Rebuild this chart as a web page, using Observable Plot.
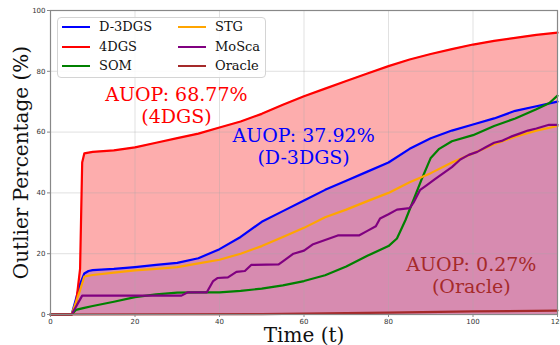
<!DOCTYPE html>
<html><head><meta charset="utf-8">
<script src="https://cdn.jsdelivr.net/npm/d3@7"></script>
<script src="https://cdn.jsdelivr.net/npm/@observablehq/plot@0.6"></script>
<style>
body{margin:0;background:#fff;}
#wrap{position:relative;width:560px;height:345px;}
.legend{position:absolute;left:57px;top:17px;width:207px;height:59px;border:1px solid #d4d4d4;border-radius:4px;background:rgba(255,255,255,0.85);font-family:"DejaVu Serif";font-size:13px;color:#111;}
.item{position:absolute;height:18px;line-height:18px;}
.item .sw{position:absolute;top:8px;width:28px;height:2px;}
.item .lb{position:absolute;left:37px;white-space:nowrap;}
</style></head><body><div id="wrap"></div>
<script>
const seriesNames = ["D-3DGS","4DGS","SOM","STG","MoSca","Oracle"];
const seriesColors = ["blue","red","green","orange","purple","brown"];

const t_D3DGS = [0,5,6,7,8,9,10,15,20,25,30,35,40,45,50,55,60,65,70,75,80,85,90,95,100,105,110,115,120];
const v_D3DGS = [0,0,5,10,13.5,14.3,14.6,15,15.6,16.3,17,18.5,21.5,25.5,30.5,34,37.5,41,44,47,50,54.5,58,60.5,62.5,64.5,67,68.5,70];

const t_4DGS = [0,5,6,7,7.5,8,10,15,20,25,30,35,40,45,50,55,60,65,70,75,80,85,90,95,100,105,110,115,120];
const v_4DGS = [0,0,3,15,50,53,53.5,54,55,56.5,58,59.5,61.5,63.5,66,69,71.8,74.3,76.8,79.3,81.7,83.9,85.7,87.3,88.8,90,91,92,92.7];

const t_SOM = [0,5,6,8,10,15,20,25,30,35,40,45,50,55,60,65,70,75,80,82,84,86,88,90,92,95,100,105,110,115,118,120];
const v_SOM = [0,0,1.5,2.2,2.8,4.2,5.7,6.6,7.2,7.3,7.3,7.8,8.5,9.6,11,12.9,15.8,19.3,22.5,25,31,38,45,51.5,54.5,57,59,62,64.5,67.5,69.5,72];

const t_STG = [0,5,6,7,8,10,15,20,25,30,35,40,45,50,55,60,65,70,75,80,85,90,95,100,105,110,115,120];
const v_STG = [0,0,4,8,12.5,13,13.8,14.5,15,15.6,16.8,18,20,22.5,25.5,28.5,32,34.5,37.3,40,43.5,46.5,50,53,56,58.5,60.5,62];

const t_MoSca = [0,5,7.5,31,32.5,37,38.5,39.5,42,44,46,47.5,54,55,57.5,60,62,65,68,73,75,77,78,80,82,85,86,87.5,89,91,93,95,97,99,101,103,105,107,109,111,113,115,118,120];
const v_MoSca = [0,0,6.2,6.2,7.3,7.3,11,12,12.2,14,14.3,16.3,16.5,17.5,20,21,23,24.5,26,26,27.5,29,31.6,33,34.5,35,37,41,42.5,44.5,46.5,48.5,51,52.5,53.5,55,56.5,57.2,58.5,59.5,60.5,61.2,62.4,62.4];

const t_Oracle = [0,50,60,80,100,120];
const v_Oracle = [0,0.1,0.3,0.6,1.0,1.3];

const xTicks = [0,20,40,60,80,100,120];
const yTicks = [0,20,40,60,80,100];

const annoText = ["AUOP: 68.77%\n(4DGS)","AUOP: 37.92%\n(D-3DGS)","AUOP: 0.27%\n(Oracle)"];
const annoColor = ["red","blue","brown"];
const annoX = [29.8, 59.9, 99.6];
const annoY = [68.8, 55.3, 12.9];

const seriesT = [t_D3DGS,t_4DGS,t_SOM,t_STG,t_MoSca,t_Oracle];
const seriesV = [v_D3DGS,v_4DGS,v_SOM,v_STG,v_MoSca,v_Oracle];
const rows = [];
seriesNames.forEach((s,i)=>seriesT[i].forEach((t,j)=>rows.push({series:s,t,v:seriesV[i][j]})));
const bySeries = s => rows.filter(r=>r.series===s);
const annos = annoText.map((txt,i)=>({txt,c:annoColor[i],x:annoX[i],y:annoY[i]}));

const chart = Plot.plot({
  width:560, height:345,
  marginLeft:50, marginRight:3, marginTop:10, marginBottom:31,
  style:{fontFamily:"DejaVu Sans", background:"transparent"},
  x:{domain:[0,120]},
  y:{domain:[0,100]},
  marks:[
    Plot.areaY(bySeries("4DGS"),{x:"t",y:"v",fill:"#fdadad",curve:"linear"}),
    Plot.areaY(bySeries("D-3DGS"),{x:"t",y:"v",fill:"#d78bb0",curve:"linear"}),
    Plot.gridX(xTicks,{stroke:"#aaa",strokeOpacity:0.35}),
    Plot.gridY(yTicks,{stroke:"#aaa",strokeOpacity:0.35}),
    ...seriesNames.map((s,i)=>Plot.line(bySeries(s),{x:"t",y:"v",stroke:seriesColors[i],strokeWidth:2.2})),
    Plot.frame({stroke:"#888",strokeWidth:1.2}),
    Plot.axisX({ticks:xTicks,tickSize:3,fontSize:7,label:null,stroke:"#888",fill:"#333",tickPadding:2}),
    Plot.axisY({ticks:yTicks,tickSize:3,fontSize:7,label:null,stroke:"#888",fill:"#333",tickPadding:2}),
    Plot.text(["Outlier Percentage (%)"],{frameAnchor:"left",dx:-29,rotate:-90,fontSize:20,fontFamily:"DejaVu Serif",fontWeight:"normal",fill:"#111",textAnchor:"middle"}),
    Plot.text(["Time (t)"],{frameAnchor:"bottom",dy:27,fontSize:20,fontFamily:"DejaVu Serif",fontWeight:"normal",fill:"#111",textAnchor:"middle",lineAnchor:"bottom"}),
    Plot.text(annos,{x:"x",y:"y",text:"txt",fill:"c",fontSize:19,fontFamily:"DejaVu Serif",textAnchor:"middle",lineAnchor:"middle",lineHeight:1.15})
  ]
});
const wrap = document.getElementById("wrap");
wrap.appendChild(chart);

const leg = document.createElement("div");
leg.className="legend";
const pos = [[0,0],[0,1],[0,2],[1,0],[1,1],[1,2]];
seriesNames.forEach((s,i)=>{
  const it=document.createElement("div");
  it.className="item";
  it.style.left=(pos[i][0]?120:4)+"px";
  it.style.top=(pos[i][1]*19.5)+"px";
  it.innerHTML=`<span class="sw" style="background:${seriesColors[i]}"></span><span class="lb">${s}</span>`;
  leg.appendChild(it);
});
wrap.appendChild(leg);
</script></body></html>
